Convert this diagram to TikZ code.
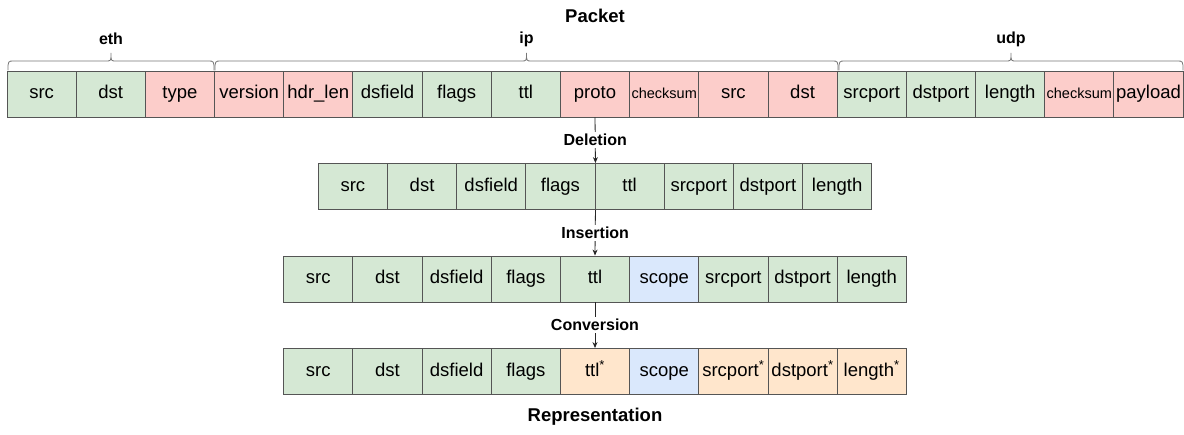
\documentclass[tikz,border=0pt]{standalone}
\usepackage{fontspec}
\setmainfont{Liberation Sans}
\usetikzlibrary{arrows.meta}
\definecolor{grn}{HTML}{D5E8D4}
\definecolor{rd}{HTML}{FCCDCA}
\definecolor{blu}{HTML}{DAE8FC}
\definecolor{org}{HTML}{FFE6CC}
\definecolor{edge}{HTML}{555555}
\newcommand{\csum}{{\fontsize{14.5}{16}\selectfont checksum}}
\newcommand{\st}[1]{#1\textsuperscript{\fontsize{13}{13}\selectfont *}}
% curly bracket over a group of fields: left x, right x
\newcommand{\topbrace}[2]{%
  \draw[brc] (#1,70.5) .. controls (#1,61) .. ({#1+6},61)
    -- ({(#1+#2)/2-5},61) .. controls ({(#1+#2)/2},61) .. ({(#1+#2)/2},53)
    .. controls ({(#1+#2)/2},61) .. ({(#1+#2)/2+5},61)
    -- ({#2-6},61) .. controls (#2,61) .. (#2,70.5);}
\tikzset{
  cell/.style={draw=edge, line width=0.9pt, minimum width=69.18pt,
    minimum height=46pt, inner sep=0pt, text height=13.5pt, text depth=4pt,
    font=\fontsize{18.5}{20}\selectfont},
  brc/.style={draw=edge!80, line width=0.8pt},
  grp/.style={font=\bfseries\fontsize{16}{18}\selectfont, inner sep=1pt},
  ttl/.style={font=\bfseries\fontsize{18.5}{20}\selectfont, inner sep=1pt},
  conn/.style={draw=black!85, line width=0.8pt, -{Stealth[length=6pt,width=5pt]}},
  lbl/.style={fill=white, font=\bfseries\fontsize{16}{18}\selectfont,
    inner sep=2pt, pos=0.5}
}
\begin{document}
\begin{tikzpicture}[x=1pt,y=-1pt]
\useasboundingbox (0,0) rectangle (1184,435);

% packet fields
\foreach \t/\c [count=\i] in {src/grn, dst/grn, type/rd, version/rd, hdr\_len/rd,
    dsfield/grn, flags/grn, ttl/grn, proto/rd, \csum/rd, src/rd, dst/rd,
    srcport/grn, dstport/grn, length/grn, \csum/rd, payload/rd}
  \node[cell, fill=\c] (a\i) at ({7+(\i-0.5)*69.18}, 94) {\t};

% after deletion
\foreach \t [count=\i] in {src, dst, dsfield, flags, ttl, srcport, dstport, length}
  \node[cell, fill=grn] (b\i) at ({318.28+(\i-0.5)*69.18}, 186.5) {\t};

% after insertion
\foreach \t/\c [count=\i] in {src/grn, dst/grn, dsfield/grn, flags/grn, ttl/grn,
    scope/blu, srcport/grn, dstport/grn, length/grn}
  \node[cell, fill=\c] (c\i) at ({283.69+(\i-0.5)*69.18}, 279) {\t};

% after conversion
\foreach \t/\c [count=\i] in {src/grn, dst/grn, dsfield/grn, flags/grn, \st{ttl}/org,
    scope/blu, \st{srcport}/org, \st{dstport}/org, \st{length}/org}
  \node[cell, fill=\c] (d\i) at ({283.69+(\i-0.5)*69.18}, 371.5) {\t};

% header groups
\topbrace{8}{214}
\topbrace{215}{838}
\topbrace{839}{1183}
\node[grp] (eth) at (111,39) {eth};
\node[grp] (ip) at (526.5,39) {ip};
\node[grp] (udp) at (1011,39) {udp};

\node[ttl] (packet) at (595,16) {Packet};
\node[ttl] (repr) at (595,417) {Representation};

% processing steps
\draw[conn] (a9.south) -- node[lbl] {Deletion} (b4.north east);
\draw[conn] (b4.south east) -- node[lbl] {Insertion} (c5.north);
\draw[conn] (c5.south) -- node[lbl] {Conversion} (d5.north);
\end{tikzpicture}
\end{document}
